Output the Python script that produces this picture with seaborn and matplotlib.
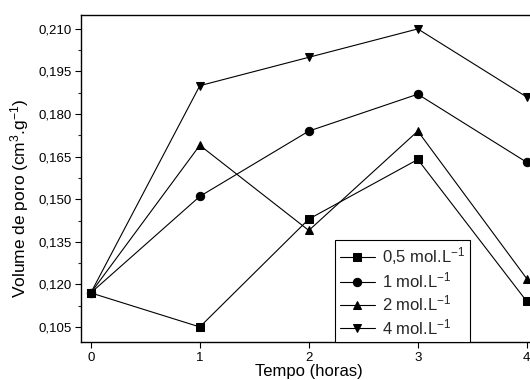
import numpy as np
import pandas as pd
import seaborn as sns
import matplotlib
matplotlib.use("Agg")
import matplotlib.pyplot as plt
from matplotlib.ticker import MultipleLocator

sns.set_theme(style="ticks")
plt.rcParams['font.family'] = ['Liberation Sans', 'DejaVu Sans']
plt.rcParams['mathtext.fontset'] = 'custom'
plt.rcParams['mathtext.rm'] = 'Liberation Sans'
plt.rcParams['mathtext.it'] = 'Liberation Sans'

tempo = [0, 1, 2, 3, 4]
s05 = [0.117, 0.105, 0.143, 0.164, 0.114]
s1 = [0.117, 0.151, 0.174, 0.187, 0.163]
s2 = [0.117, 0.169, 0.139, 0.174, 0.122]
s4 = [0.117, 0.190, 0.200, 0.210, 0.186]
labels = ['0,5 mol.L$^{\\mathregular{-1}}$', '1 mol.L$^{\\mathregular{-1}}$',
          '2 mol.L$^{\\mathregular{-1}}$', '4 mol.L$^{\\mathregular{-1}}$']
markers = ['s', 'o', '^', 'v']
yticks = [0.105, 0.120, 0.135, 0.150, 0.165, 0.180, 0.195, 0.210]
ytick_labels = ['0,105', '0,120', '0,135', '0,150', '0,165', '0,180', '0,195', '0,210']
xticks = [0, 1, 2, 3, 4]

fig = plt.figure(figsize=(5.3, 3.8), dpi=100)
ax = fig.add_axes([81/530, 38/380, 455.6/530, 327/380])

for vals, lab, mk in zip([s05, s1, s2, s4], labels, markers):
    df = pd.DataFrame({'t': tempo, 'v': vals})
    sns.lineplot(data=df, x='t', y='v', ax=ax, color='black', linewidth=0.8,
                 marker=mk, markersize=6, markeredgecolor='black',
                 markerfacecolor='black', label=lab)

ax.set_xlim(-0.09, 4.09)
ax.set_ylim(0.0997, 0.2149)
ax.set_xticks(xticks)
ax.set_xticklabels([str(t) for t in xticks])
ax.set_yticks(yticks)
ax.set_yticklabels(ytick_labels)
ax.yaxis.set_minor_locator(MultipleLocator(0.0075))
ax.tick_params(axis='both', which='major', direction='out', length=4, width=0.8,
               labelsize=9.5, colors='black', pad=3)
ax.tick_params(axis='y', which='minor', direction='out', length=2.5, width=0.8)
for sp in ax.spines.values():
    sp.set_visible(True)
    sp.set_color('black')
    sp.set_linewidth(1.0)

ax.set_xlabel('Tempo (horas)', fontsize=12, labelpad=0, color='black')
ax.set_ylabel('Volume de poro (cm$^{\\mathregular{3}}$.g$^{\\mathregular{-1}}$)',
              fontsize=12.5, color='black', va='center')
ax.yaxis.set_label_coords(-0.134, 0.44)

leg = ax.legend(loc='lower left', bbox_to_anchor=(0.5575, 0.0), borderaxespad=0,
                frameon=True, fancybox=False, edgecolor='black', fontsize=12,
                handlelength=2.1, handletextpad=0.4, labelspacing=0.2,
                borderpad=0.3, framealpha=1)
leg.get_frame().set_linewidth(0.8)

fig.savefig('out.png', dpi=100)
